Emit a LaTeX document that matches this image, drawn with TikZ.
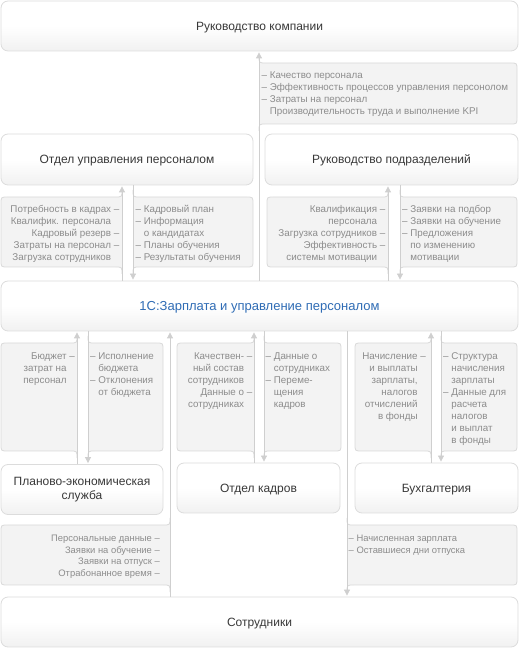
\documentclass[tikz,border=0pt]{standalone}
\usepackage{fontspec}
\setmainfont{Liberation Sans}
\usetikzlibrary{arrows.meta}
\definecolor{linecol}{HTML}{CFCFCF}
\definecolor{pfill}{HTML}{F3F3F3}
\definecolor{pdraw}{HTML}{D9D9D9}
\definecolor{bdraw}{HTML}{DCDCDC}
\definecolor{bbot}{HTML}{F1F1F1}
\definecolor{ptxt}{HTML}{8C8C8C}
\definecolor{btxt}{HTML}{383838}
\definecolor{bluec}{HTML}{2F6CB5}
% panel with its line on the right: X0, L, T, B (pixel coords from top)
\newcommand\panelR[4]{%
 \path[panel] ({#2},{655-#3}) .. controls ({#2},{648-#3}) .. ({#2-7},{648-#3}) -- ({#1+7},{648-#3}) .. controls ({#1},{648-#3}) .. ({#1},{641-#3}) -- ({#1},{655-#4}) .. controls ({#1},{648-#4}) .. ({#1+7},{648-#4}) -- ({#2-7},{648-#4}) .. controls ({#2},{648-#4}) .. ({#2},{641-#4});}
% panel with its line on the left: L, X1, T, B
\newcommand\panelL[4]{%
 \path[panel] ({#1},{655-#3}) .. controls ({#1},{648-#3}) .. ({#1+7},{648-#3}) -- ({#2-7},{648-#3}) .. controls ({#2},{648-#3}) .. ({#2},{641-#3}) -- ({#2},{655-#4}) .. controls ({#2},{648-#4}) .. ({#2-7},{648-#4}) -- ({#1+7},{648-#4}) .. controls ({#1},{648-#4}) .. ({#1},{641-#4});}
% text blocks: name, x, first baseline (from top), text
\newcommand\tR[4]{\node[ptext, anchor=north east, align=right] (#1) at ({#2},{656.4-#3}) {\strut #4};}
\newcommand\tL[4]{\node[ptext, anchor=north west, align=left] (#1) at ({#2},{656.4-#3}) {\strut #4};}
\tikzset{
 box/.style={draw=bdraw, line width=0.8pt, rounded corners=7pt, top color=white, bottom color=bbot, middle color=white, text=btxt, font=\fontsize{12}{14}\selectfont, inner sep=0pt, align=center},
 onebox/.style={box, text height=9pt, text depth=0pt},
 panel/.style={fill=pfill, draw=pdraw, line width=0.8pt},
 ptext/.style={text=ptxt, font=\fontsize{9.8}{12}\selectfont, inner sep=0pt},
 conn/.style={draw=linecol, line width=0.8pt, -{Triangle[width=6pt,length=6pt]}, shorten >=1pt},
}
\begin{document}
\begin{tikzpicture}[x=1pt, y=1pt]
\useasboundingbox (0,0) rectangle (519,648);
% boxes
\node[onebox, minimum width=517pt, minimum height=50pt] (top) at (259.5,622) {Руководство компании};
\node[onebox, minimum width=252pt, minimum height=51pt] (oup) at (127,488.5) {Отдел управления персоналом};
\node[onebox, minimum width=253pt, minimum height=51pt] (rp) at (391.5,488.5) {Руководство подразделений};
\node[box, minimum width=517pt, minimum height=50pt, text=bluec, font=\fontsize{13}{15}\selectfont, text height=10pt, text depth=0pt] (onec) at (259.5,342) {1С:Зарплата и управление персоналом};
\node[box, minimum width=162pt, minimum height=50pt] (pes) at (82,158.5) {Планово-экономическая\\служба};
\node[onebox, minimum width=163pt, minimum height=50pt] (ok) at (258.5,160) {Отдел кадров};
\node[onebox, minimum width=163pt, minimum height=50pt] (buh) at (436.5,160) {Бухгалтерия};
\node[onebox, minimum width=517pt, minimum height=50pt] (sotr) at (259.5,26) {Сотрудники};
% panels
\panelL{259}{517}{63}{124}
\panelR{1}{122}{197}{267}
\panelL{133}{253}{197}{267}
\panelR{267}{388}{197}{267}
\panelL{400}{517}{197}{267}
\panelR{1}{77}{343}{451}
\panelL{88}{163}{343}{451}
\panelR{177}{254}{343}{451}
\panelL{264}{341}{343}{451}
\panelR{355}{431}{343}{451}
\panelL{441}{517}{343}{451}
\panelR{1}{170}{525}{585}
\panelL{347}{517}{525}{585}
% connectors
\draw[conn] (onec.north -| 259,0) -- (top.south -| 259,0);
\draw[conn] (onec.north -| 122,0) -- (oup.south -| 122,0);
\draw[conn] (oup.south -| 133,0) -- (onec.north -| 133,0);
\draw[conn] (onec.north -| 388,0) -- (rp.south -| 388,0);
\draw[conn] (rp.south -| 400,0) -- (onec.north -| 400,0);
\draw[conn] (pes.north -| 77,0) -- (onec.south -| 77,0);
\draw[conn] (onec.south -| 88,0) -- (pes.north -| 88,0);
\draw[conn] (sotr.north -| 170,0) -- (onec.south -| 170,0);
\draw[conn] (ok.north -| 254,0) -- (onec.south -| 254,0);
\draw[conn] (onec.south -| 264,0) -- (ok.north -| 264,0);
\draw[conn] (onec.south -| 347,0) -- (sotr.north -| 347,0);
\draw[conn] (buh.north -| 431,0) -- (onec.south -| 431,0);
\draw[conn] (onec.south -| 441,0) -- (buh.north -| 441,0);
% panel texts
\tL{t1}{261.5}{78}{–~Качество персонала\\–~Эффективность процессов управления персонолом\\–~Затраты на персонал\\\hphantom{–~}Производительность труда и выполнение KPI}
\tR{t2}{119.5}{212.5}{Потребность в кадрах~–\\Квалифик. персонала\hphantom{~–}\\Кадровый резерв~–\\Затраты на персонал~–\\Загрузка сотрудников\hphantom{~–}}
\tL{t3}{135.5}{212.5}{–~Кадровый план\\–~Информация\\\hphantom{–~}о кандидатах\\–~Планы обучения\\–~Результаты обучения}
\tR{t4}{385.5}{212.5}{Квалификация~–\\персонала\hphantom{~–}\\Загрузка сотрудников~–\\Эффективность~–\\системы мотивации\hphantom{~–}}
\tL{t5}{402}{212.5}{–~Заявки на подбор\\–~Заявки на обучение\\–~Предложения\\\hphantom{–~}по изменению\\\hphantom{–~}мотивации}
\tR{t6}{75}{359}{Бюджет~–\\затрат на\hphantom{~–}\\персонал\hphantom{~–}}
\tL{t7}{90}{359}{–~Исполнение\\\hphantom{–~}бюджета\\–~Отклонения\\\hphantom{–~}от бюджета}
\tR{t8}{252.5}{359}{Качествен-~–\\ный состав\hphantom{~–}\\сотрудников\hphantom{~–}\\Данные о~–\\сотрудниках\hphantom{~–}}
\tL{t9}{265.5}{359}{–~Данные о\\\hphantom{–~}сотрудниках\\–~Переме-\\\hphantom{–~}щения\\\hphantom{–~}кадров}
\tR{t10}{426}{359}{Начисление~–\\и выплаты\hphantom{~–}\\зарплаты,\hphantom{~–}\\налогов\hphantom{~–}\\отчислений\hphantom{~–}\\в фонды\hphantom{~–}}
\tL{t11}{443}{359}{–~Структура\\\hphantom{–~}начисления\\\hphantom{–~}зарплаты\\–~Данные для\\\hphantom{–~}расчета\\\hphantom{–~}налогов\\\hphantom{–~}и выплат\\\hphantom{–~}в фонды}
\node[ptext, font=\fontsize{9.4}{11.5}\selectfont, anchor=north east, align=right] (t12) at (160,{648-541.5+8.05}) {\strut Персональные данные~–\\Заявки на обучение~–\\Заявки на отпуск~–\\Отрабонанное время~–};
\node[ptext, font=\fontsize{9.4}{11.5}\selectfont, anchor=north west, align=left] (t13) at (348.5,{648-541.5+8.05}) {\strut –~Начисленная зарплата\\–~Оставшиеся дни отпуска};
\end{tikzpicture}
\end{document}
